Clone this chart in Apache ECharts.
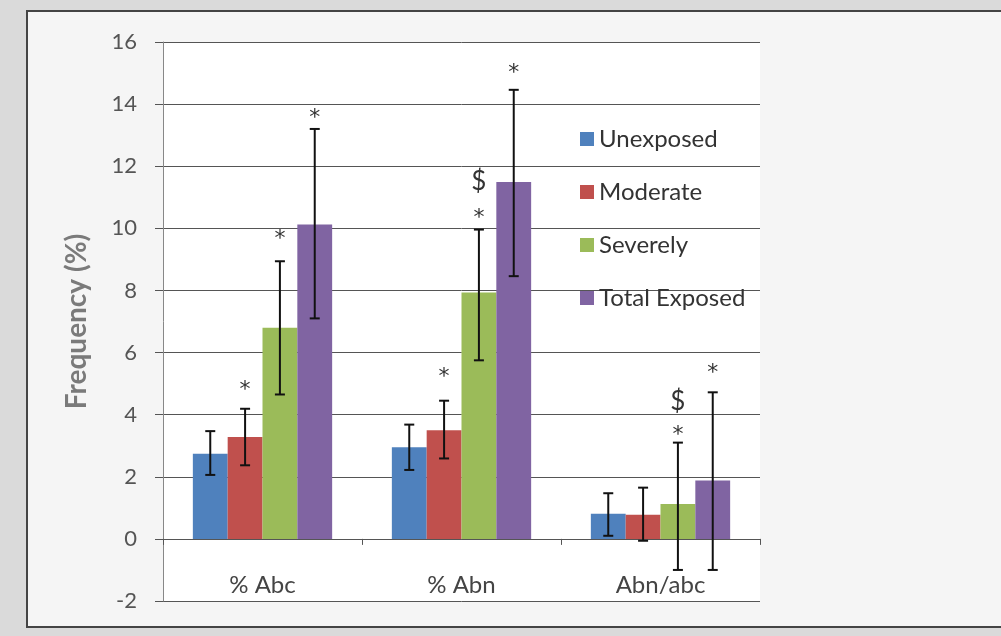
<!DOCTYPE html>
<html>
<head>
<meta charset="utf-8">
<script src="https://cdn.jsdelivr.net/npm/echarts@6/dist/echarts.min.js"></script>
<style>
html,body{margin:0;padding:0;background:#dadada;}
#chart{width:1001px;height:636px;}
</style>
</head>
<body>
<div id="chart"></div>
<script>
// ---- data ----
const categories = ['% Abc', '% Abn', 'Abn/abc'];
const seriesNames = ['Unexposed', 'Moderate', 'Severely', 'Total Exposed'];
const yTicks = { min: -2, max: 16, interval: 2 };

const unexposed    = [2.74, 2.95, 0.81];
const moderate     = [3.28, 3.50, 0.78];
const severely     = [6.80, 7.93, 1.12];
const totalExposed = [10.12, 11.49, 1.88];

const unexposedLow     = [2.06, 2.22, 0.10];
const unexposedHigh    = [3.47, 3.68, 1.47];
const moderateLow      = [2.37, 2.59, -0.06];
const moderateHigh     = [4.19, 4.45, 1.65];
const severelyLow      = [4.65, 5.75, -1.00];
const severelyHigh     = [8.94, 9.96, 3.10];
const totalExposedLow  = [7.10, 8.46, -1.00];
const totalExposedHigh = [13.20, 14.46, 4.72];

// significance marks: '*' and '$' positions (value units), null = none
const unexposedStar    = [null, null, null];
const moderateStar     = [4.95, 5.38, null];
const severelyStar     = [9.80, 10.50, 3.50];
const totalExposedStar = [13.70, 15.15, 5.48];
const unexposedDollar    = [null, null, null];
const moderateDollar     = [null, null, null];
const severelyDollar     = [null, 11.50, 4.42];
const totalExposedDollar = [null, null, null];

const colors = ['#4F81BD', '#C0504D', '#9BBB59', '#8064A2'];

const values  = [unexposed, moderate, severely, totalExposed];
const lows    = [unexposedLow, moderateLow, severelyLow, totalExposedLow];
const highs   = [unexposedHigh, moderateHigh, severelyHigh, totalExposedHigh];
const stars   = [unexposedStar, moderateStar, severelyStar, totalExposedStar];
const dollars = [unexposedDollar, moderateDollar, severelyDollar, totalExposedDollar];

const FONT = 'Lato, "Open Sans", sans-serif';
const CAT_GAP = 0.30;

function errRender(s) {
  return function (params, api) {
    const c = api.value(0);
    const lo = api.coord([c, api.value(1)]);
    const hi = api.coord([c, api.value(2)]);
    const band = api.size([1, 0])[0];
    const bw = band * (1 - CAT_GAP) / 4;
    const x = lo[0] + (s - 1.5) * bw;
    const cap = 5;
    const st = { stroke: '#111', lineWidth: 2 };
    const children = [
      { type: 'line', shape: { x1: x, y1: lo[1], x2: x, y2: hi[1] }, style: st },
      { type: 'line', shape: { x1: x - cap, y1: lo[1], x2: x + cap, y2: lo[1] }, style: st },
      { type: 'line', shape: { x1: x - cap, y1: hi[1], x2: x + cap, y2: hi[1] }, style: st }
    ];
    const sv = api.value(3);
    if (sv !== null && sv !== undefined && !isNaN(sv)) {
      const p = api.coord([c, sv]);
      children.push({ type: 'text', style: { text: '*', x: x, y: p[1] + 5, align: 'center', verticalAlign: 'middle', fontSize: 22, fontFamily: '"DejaVu Sans", sans-serif', fill: '#333' } });
    }
    const dv = api.value(4);
    if (dv !== null && dv !== undefined && !isNaN(dv)) {
      const p = api.coord([c, dv]);
      children.push({ type: 'text', style: { text: '$', x: x, y: p[1], align: 'center', verticalAlign: 'middle', fontSize: 26, fontFamily: FONT, fill: '#333' } });
    }
    return { type: 'group', children: children };
  };
}

const series = [];
seriesNames.forEach(function (name, s) {
  series.push({
    name: name, type: 'bar', data: values[s],
    itemStyle: { color: colors[s] },
    barGap: '0%', barCategoryGap: (CAT_GAP * 100) + '%',
    z: 2
  });
});
seriesNames.forEach(function (name, s) {
  series.push({
    type: 'custom', name: name + ' err',
    renderItem: errRender(s),
    data: categories.map(function (c, i) {
      return [i, lows[s][i], highs[s][i],
        stars[s][i] === null ? NaN : stars[s][i],
        dollars[s][i] === null ? NaN : dollars[s][i]];
    }),
    encode: { x: 0, y: [1, 2] },
    z: 5, silent: true
  });
});

const chart = echarts.init(document.getElementById('chart'));
chart.setOption({
  backgroundColor: '#dadada',
  animation: false,
  textStyle: { fontFamily: FONT },
  graphic: [{
    type: 'rect', z: -10, silent: true,
    shape: { x: 27, y: 11, width: 1000, height: 616 },
    style: { fill: '#f5f5f5', stroke: '#444', lineWidth: 2 }
  }],
  grid: {
    left: 163, right: 241, top: 42, bottom: 35,
    show: true, backgroundColor: '#ffffff', borderWidth: 0,
    outerBoundsMode: 'none'
  },
  legend: {
    data: seriesNames,
    orient: 'vertical', left: 575, top: 122,
    icon: 'rect', itemWidth: 14, itemHeight: 14, itemGap: 29,
    textStyle: { fontSize: 24, lineHeight: 24, color: '#333', fontFamily: FONT }
  },
  xAxis: {
    type: 'category', data: categories,
    axisLine: { onZero: true, lineStyle: { color: '#555', width: 1 } },
    axisTick: { show: true, length: 6, lineStyle: { color: '#555' } },
    axisLabel: { fontSize: 24, color: '#444', margin: -28, fontFamily: FONT },
    splitLine: { show: false }
  },
  yAxis: {
    type: 'value', min: yTicks.min, max: yTicks.max, interval: yTicks.interval,
    name: 'Frequency (%)', nameLocation: 'middle', nameGap: 72, nameRotate: 90,
    nameTextStyle: { fontSize: 28, fontWeight: 'bold', color: '#7a7a7a', fontFamily: FONT },
    axisLine: { show: true, lineStyle: { color: '#888', width: 1 } },
    axisTick: { show: true, length: 8, lineStyle: { color: '#555' } },
    axisLabel: { fontSize: 22, color: '#555', margin: 26, fontFamily: FONT },
    splitLine: { show: true, lineStyle: { color: '#555', width: 1 } }
  },
  series: series
});
</script>
</body>
</html>
